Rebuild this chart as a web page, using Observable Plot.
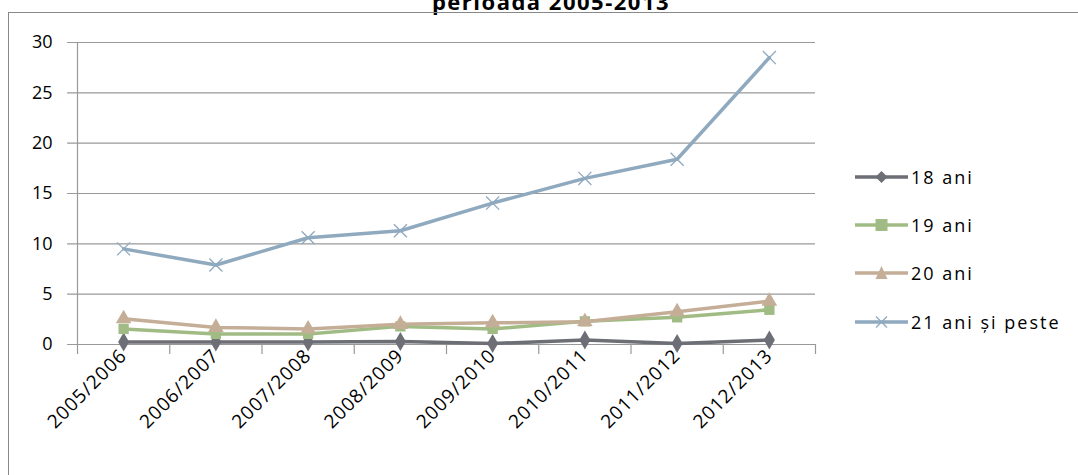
<!DOCTYPE html>
<html>
<head>
<meta charset="utf-8">
<script src="https://cdn.jsdelivr.net/npm/d3@7"></script>
<script src="https://cdn.jsdelivr.net/npm/@observablehq/plot@0.6"></script>
<style>
  html, body { margin: 0; padding: 0; background: #fff; }
  body { width: 1078px; height: 475px; overflow: hidden; position: relative; font-family: "Open Sans", Lato, sans-serif; }
  #title { position: absolute; left: 0; width: 1102px; top: -10px; text-align: center; font-weight: bold; font-size: 22px; letter-spacing: 1.5px; line-height: 22px; color: #000; }
  #frame { position: absolute; left: 8px; top: 12px; width: 1200px; height: 600px; border-left: 1.5px solid #888; border-top: 1.5px solid #888; }
  #chart { position: absolute; left: 0; top: 0; }
  #legend { position: absolute; left: 855px; top: 0; }
  .item { position: absolute; left: 0; height: 22px; display: flex; align-items: center; white-space: nowrap; font-size: 18px; letter-spacing: 2px; color: #000; }
  .item svg { margin-right: 3px; }
</style>
</head>
<body>
<div id="title">perioada 2005-2013</div>
<div id="frame"></div>
<div id="chart"></div>
<div id="legend"></div>
<script>
const categories = ["2005/2006","2006/2007","2007/2008","2008/2009","2009/2010","2010/2011","2011/2012","2012/2013"];
const seriesNames = ["18 ani","19 ani","20 ani","21 ani și peste"];
const v18 = [0.25, 0.25, 0.25, 0.3, 0.1, 0.45, 0.1, 0.45];
const v19 = [1.55, 1.05, 1.05, 1.8, 1.55, 2.3, 2.7, 3.45];
const v20 = [2.55, 1.7, 1.55, 2.0, 2.15, 2.25, 3.25, 4.3];
const v21 = [9.5, 7.9, 10.6, 11.3, 14.05, 16.5, 18.4, 28.5];
const yTicks = [0, 5, 10, 15, 20, 25, 30];
const colors = ["#6d6e76", "#a0bc84", "#c5ae98", "#8fa9bf"];
const symbols = ["diamond", "square", "triangle", "times"];

const allValues = [v18, v19, v20, v21];
const data = [];
allValues.forEach((arr, s) => arr.forEach((v, i) => data.push({series: seriesNames[s], cat: categories[i], idx: i, value: v})));

const rowsFor = s => data.filter(d => d.series === seriesNames[s]);

const marks = [
  Plot.ruleY(yTicks, {y: d => d, x1: -0.107, x2: 8, stroke: "#999", strokeWidth: 1.2, clip: false}),
  Plot.ruleX([0], {y1: 0, y2: 30, stroke: "#999", strokeWidth: 1.2}),
  Plot.axisY({ticks: yTicks, tickSize: 0, tickPadding: 25, fontSize: 18, label: null, tickFormat: d => String(d)}),
  Plot.axisX({ticks: d3.range(0, 9), tickSize: 10, tickFormat: () => "", label: null, stroke: "#999", strokeWidth: 1.2}),
  Plot.axisX({ticks: d3.range(0, 8).map(i => i + 0.5), tickSize: 0, tickPadding: 8, tickRotate: -45, fontSize: 19, label: null, tickFormat: t => categories[Math.round(t - 0.5)]})
];
seriesNames.forEach((name, s) => {
  const rows = rowsFor(s);
  marks.push(Plot.line(rows, {x: d => d.idx + 0.5, y: "value", stroke: colors[s], strokeWidth: 3.5, curve: "linear"}));
  if (symbols[s] === "times") {
    marks.push(Plot.dot(rows, {x: d => d.idx + 0.5, y: "value", symbol: "times", r: 6, stroke: colors[s], strokeWidth: 1.3}));
  } else {
    marks.push(Plot.dot(rows, {x: d => d.idx + 0.5, y: "value", symbol: symbols[s], r: 5.8, fill: colors[s], stroke: "none"}));
  }
});

const chart = Plot.plot({
  width: 830,
  height: 475,
  marginLeft: 77,
  marginRight: 15,
  marginTop: 42,
  marginBottom: 131,
  style: {fontFamily: "'Open Sans', Lato, sans-serif", fontSize: "18px", color: "#000", background: "transparent", overflow: "visible"},
  x: {type: "linear", domain: [0, 8], axis: null},
  y: {domain: [0, 30], axis: null},
  marks
});
chart.querySelectorAll("text").forEach(t => { if (/\//.test(t.textContent)) t.style.letterSpacing = "1px"; });
document.getElementById("chart").appendChild(chart);

// legend
const legend = document.getElementById("legend");
const rowsY = [177, 225, 273, 322];
const symPaths = {
  diamond: '<path d="M26.5,3 L32.5,9 L26.5,15 L20.5,9Z" />',
  square: '<rect x="20.5" y="3" width="12" height="12" />',
  triangle: '<path d="M26.5,2 L32.5,15 L20.5,15Z" />',
  times: '<path d="M21,3.5 L32,14.5 M32,3.5 L21,14.5" fill="none" stroke-width="1.3"/>'
};
seriesNames.forEach((name, s) => {
  const div = document.createElement("div");
  div.className = "item";
  div.style.top = (rowsY[s] - 11) + "px";
  const isTimes = symbols[s] === "times";
  div.innerHTML = `<svg width="53" height="18" style="overflow:visible"><line x1="0" x2="53" y1="9" y2="9" stroke="${colors[s]}" stroke-width="3.5"/>` +
    `<g fill="${isTimes ? "none" : colors[s]}" stroke="${isTimes ? colors[s] : "none"}">${symPaths[symbols[s]]}</g></svg><span>${name}</span>`;
  legend.appendChild(div);
});
</script>
</body>
</html>
